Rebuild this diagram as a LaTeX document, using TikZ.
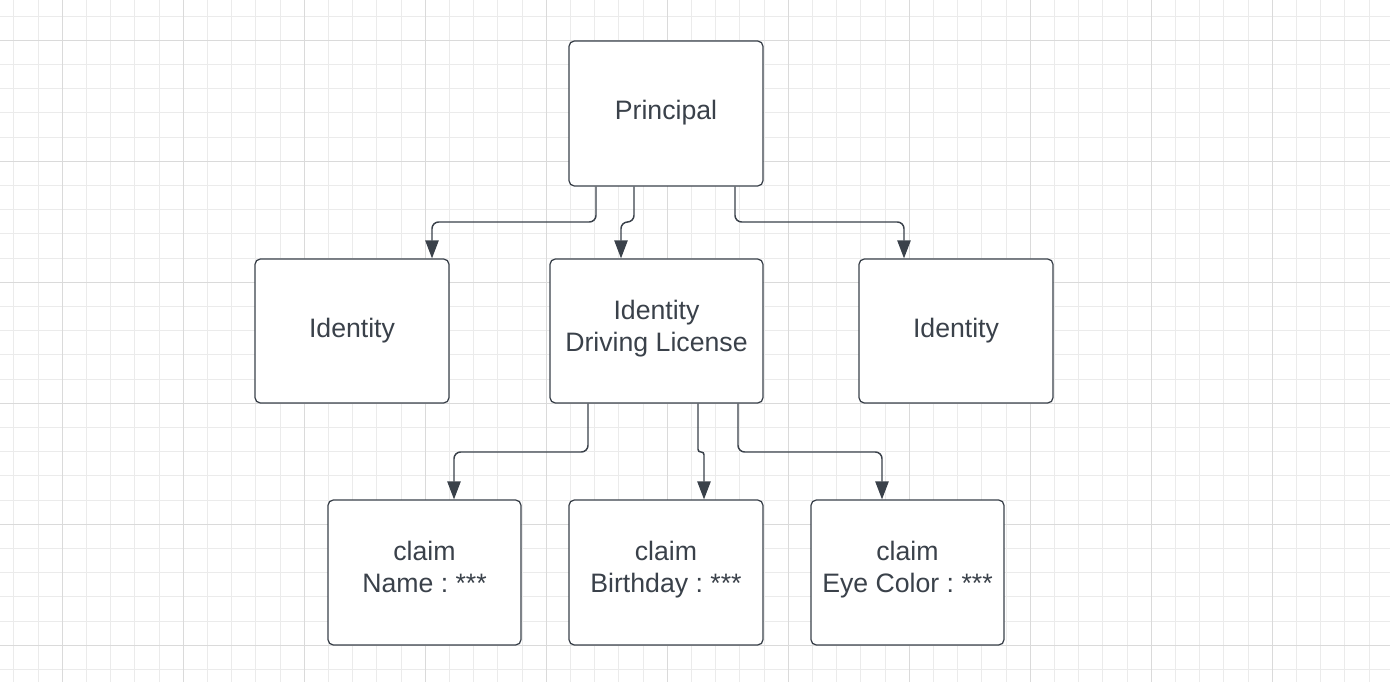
\documentclass[tikz,border=0pt]{standalone}
\usepackage{fontspec}
\setmainfont{Liberation Sans}
\usetikzlibrary{arrows.meta}
\frenchspacing
\definecolor{ink}{HTML}{3A414A}
\definecolor{gridminor}{HTML}{EBEBEB}
\definecolor{gridmajor}{HTML}{DADADA}
\newcommand{\topstrut}{\rule{0pt}{16.8pt}}
\newcommand{\botstrut}{\rule[-10.2pt]{0pt}{10.2pt}}
\tikzset{
  box/.style={draw=ink, line width=0.95pt, rounded corners=4pt, fill=white,
    text=ink, align=center, font=\fontsize{20}{24}\selectfont, inner sep=0pt},
  conn/.style={draw=ink, line width=1.1pt, rounded corners=5pt,
    -{Triangle[length=13.5pt,width=10pt]}}
}
\begin{document}
\begin{tikzpicture}[x=0.75pt,y=-0.75pt]
\useasboundingbox (0,0) rectangle (1390,682);
\fill[white] (0,0) rectangle (1390,682);
% minor grid
\foreach \i in {0,...,57} {
  \draw[gridminor, line width=0.75pt] ({13.9+24.2*\i},0) -- ({13.9+24.2*\i},682);
}
\foreach \i in {0,...,28} {
  \draw[gridminor, line width=0.75pt] (0,{16.1+24.2*\i}) -- (1390,{16.1+24.2*\i});
}
% major grid
\foreach \i in {0,...,10} {
  \draw[gridmajor, line width=0.75pt] ({62.3+121*\i},0) -- ({62.3+121*\i},682);
}
\foreach \i in {0,...,5} {
  \draw[gridmajor, line width=0.75pt] (0,{40.3+121*\i}) -- (1390,{40.3+121*\i});
}
% boxes
\node[box, minimum width=145.5pt, minimum height=108.75pt] (p) at (666,113.5) {\strut Principal};
\node[box, minimum width=145.5pt, minimum height=108pt] (i1) at (352,331) {\strut Identity};
\node[box, minimum width=159.75pt, minimum height=108pt] (i2) at (656.5,331) {\topstrut Identity\\Driving License\botstrut};
\node[box, minimum width=145.5pt, minimum height=108pt] (i3) at (956,331) {\strut Identity};
\node[box, minimum width=144.75pt, minimum height=108.75pt] (c1) at (424.5,572.5) {\topstrut claim\\Name : ***\botstrut};
\node[box, minimum width=145.5pt, minimum height=108.75pt] (c2) at (666,572.5) {\topstrut claim\\Birthday : ***\botstrut};
\node[box, minimum width=144.75pt, minimum height=108.75pt] (c3) at (907.5,572.5) {\topstrut claim\\Eye Color : ***\botstrut};
% connectors
\coordinate (a1) at (596,222);
\coordinate (a2) at (432,222);
\draw[conn] (p.south -| a1) -- (a1) -- (a2) -- (i1.north -| a2);
\coordinate (b1) at (634,222);
\coordinate (b2) at (621,222);
\draw[conn] (p.south -| b1) -- (b1) -- (b2) -- (i2.north -| b2);
\coordinate (d1) at (735,222);
\coordinate (d2) at (904,222);
\draw[conn] (p.south -| d1) -- (d1) -- (d2) -- (i3.north -| d2);
\coordinate (e1) at (588,452);
\coordinate (e2) at (454,452);
\draw[conn] (i2.south -| e1) -- (e1) -- (e2) -- (c1.north -| e2);
\coordinate (f1) at (698,452);
\coordinate (f2) at (704,452);
\draw[conn, rounded corners=2pt] (i2.south -| f1) -- (f1) -- (f2) -- (c2.north -| f2);
\coordinate (g1) at (738,452);
\coordinate (g2) at (882,452);
\draw[conn] (i2.south -| g1) -- (g1) -- (g2) -- (c3.north -| g2);
\end{tikzpicture}
\end{document}
